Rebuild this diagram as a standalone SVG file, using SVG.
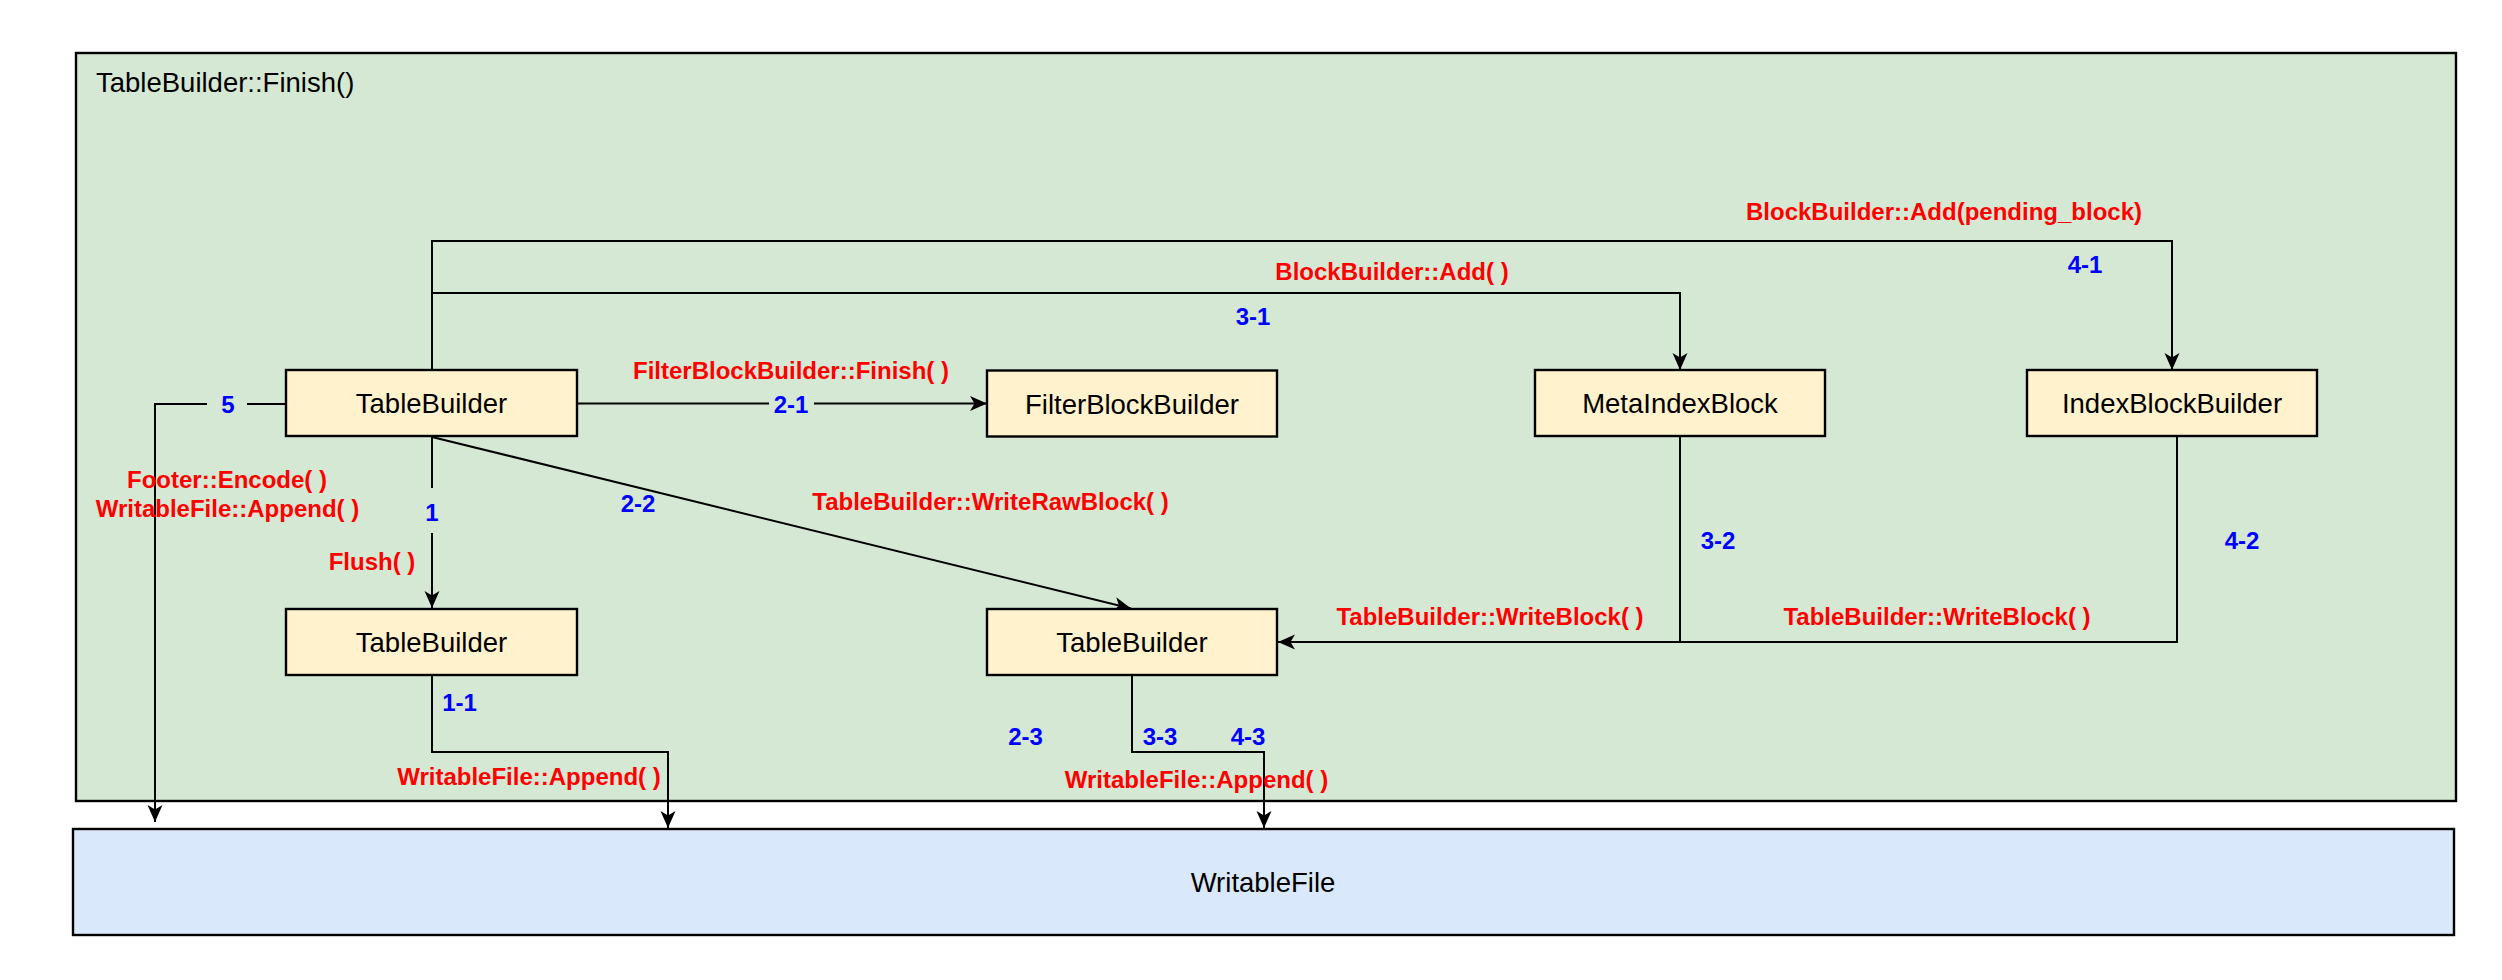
<svg xmlns="http://www.w3.org/2000/svg" width="2502" height="980" viewBox="0 0 2502 980">
<style>
.frame{fill:#d5e8d4;stroke:#000;stroke-width:2.4}
.node{fill:#fff2cc;stroke:#000;stroke-width:2.4}
.file{fill:#dae8fc;stroke:#000;stroke-width:2.4}
.nt{font-family:"Liberation Sans",Arial,sans-serif;font-size:27.5px;fill:#000;text-anchor:middle}
.title{font-family:"Liberation Sans",Arial,sans-serif;font-size:27.5px;fill:#000}
.red{font-family:"Liberation Sans",Arial,sans-serif;font-size:24px;font-weight:bold;fill:#ff0000;text-anchor:middle}
.blue{font-family:"Liberation Sans",Arial,sans-serif;font-size:24px;font-weight:bold;fill:#0000ff;text-anchor:middle}
.edge{fill:none;stroke:#000;stroke-width:2;marker-end:url(#arr)}
.line{fill:none;stroke:#000;stroke-width:2}
.lbg{fill:#d5e8d4;stroke:none}
</style>
<defs>
<marker id="arr" markerUnits="userSpaceOnUse" markerWidth="18" markerHeight="16" refX="17" refY="7.5" orient="auto">
<path d="M0,0 L17,7.5 L0,15 L4.5,7.5 Z" fill="#000"/>
</marker>
</defs>

<g id="frame">
<rect class="frame" x="76" y="53" width="2380" height="748"/>
<text class="title" x="96" y="92">TableBuilder::Finish()</text>
</g>

<g id="writablefile">
<rect class="file" x="73" y="829" width="2381" height="106"/>
<text class="nt" x="1263" y="892">WritableFile</text>
</g>

<g id="connectors">
<path class="edge" d="M432,437 V608"/>
<path class="edge" d="M432,675 V752 H668 V828"/>
<path class="edge" d="M577,403.5 H987"/>
<path class="edge" d="M432,437 L1131,608.5"/>
<path class="edge" d="M1132,675 V752 H1264 V828"/>
<path class="edge" d="M432,370 V293 H1680 V370"/>
<path class="edge" d="M1680,436 V642 H1278"/>
<path class="edge" d="M432,370 V241 H2172 V370"/>
<path class="line" d="M2177,436 V642 H1680"/>
<path class="edge" d="M286,404 H155 V822"/>
<rect class="lbg" x="207" y="390" width="40" height="28"/>
<rect class="lbg" x="769" y="390" width="45" height="28"/>
<rect class="lbg" x="420" y="488" width="24" height="45"/>
</g>

<g id="tb1">
<rect class="node" x="286" y="370" width="291" height="66"/>
<text class="nt" x="431.5" y="413">TableBuilder</text>
</g>
<g id="tb2">
<rect class="node" x="286" y="609" width="291" height="66"/>
<text class="nt" x="431.5" y="652">TableBuilder</text>
</g>
<g id="filter">
<rect class="node" x="987" y="370.5" width="290" height="66"/>
<text class="nt" x="1132" y="413.5">FilterBlockBuilder</text>
</g>
<g id="tb3">
<rect class="node" x="987" y="609" width="290" height="66"/>
<text class="nt" x="1132" y="652">TableBuilder</text>
</g>
<g id="metaindex">
<rect class="node" x="1535" y="370" width="290" height="66"/>
<text class="nt" x="1680" y="413">MetaIndexBlock</text>
</g>
<g id="indexblock">
<rect class="node" x="2027" y="370" width="290" height="66"/>
<text class="nt" x="2172" y="413">IndexBlockBuilder</text>
</g>

<g id="labels">
<text class="red" x="1944" y="220">BlockBuilder::Add(pending_block)</text>
<text class="red" x="1392" y="280">BlockBuilder::Add( )</text>
<text class="red" x="791" y="379">FilterBlockBuilder::Finish( )</text>
<text class="red" x="990.5" y="510">TableBuilder::WriteRawBlock( )</text>
<text class="red" x="227" y="488">Footer::Encode( )</text>
<text class="red" x="227.5" y="517">WritableFile::Append( )</text>
<text class="red" x="372" y="570">Flush( )</text>
<text class="red" x="1490" y="625">TableBuilder::WriteBlock( )</text>
<text class="red" x="1937" y="625">TableBuilder::WriteBlock( )</text>
<text class="red" x="529" y="785">WritableFile::Append( )</text>
<text class="red" x="1196.5" y="788">WritableFile::Append( )</text>

<text class="blue" x="228" y="412.6">5</text>
<text class="blue" x="791" y="412.6">2-1</text>
<text class="blue" x="432" y="520.6">1</text>
<text class="blue" x="638" y="512">2-2</text>
<text class="blue" x="1253" y="325.3">3-1</text>
<text class="blue" x="2085" y="273.3">4-1</text>
<text class="blue" x="1718" y="549">3-2</text>
<text class="blue" x="2242" y="549">4-2</text>
<text class="blue" x="459.5" y="711.3">1-1</text>
<text class="blue" x="1025.5" y="745.3">2-3</text>
<text class="blue" x="1160" y="745.3">3-3</text>
<text class="blue" x="1248" y="745.3">4-3</text>
</g>
</svg>
